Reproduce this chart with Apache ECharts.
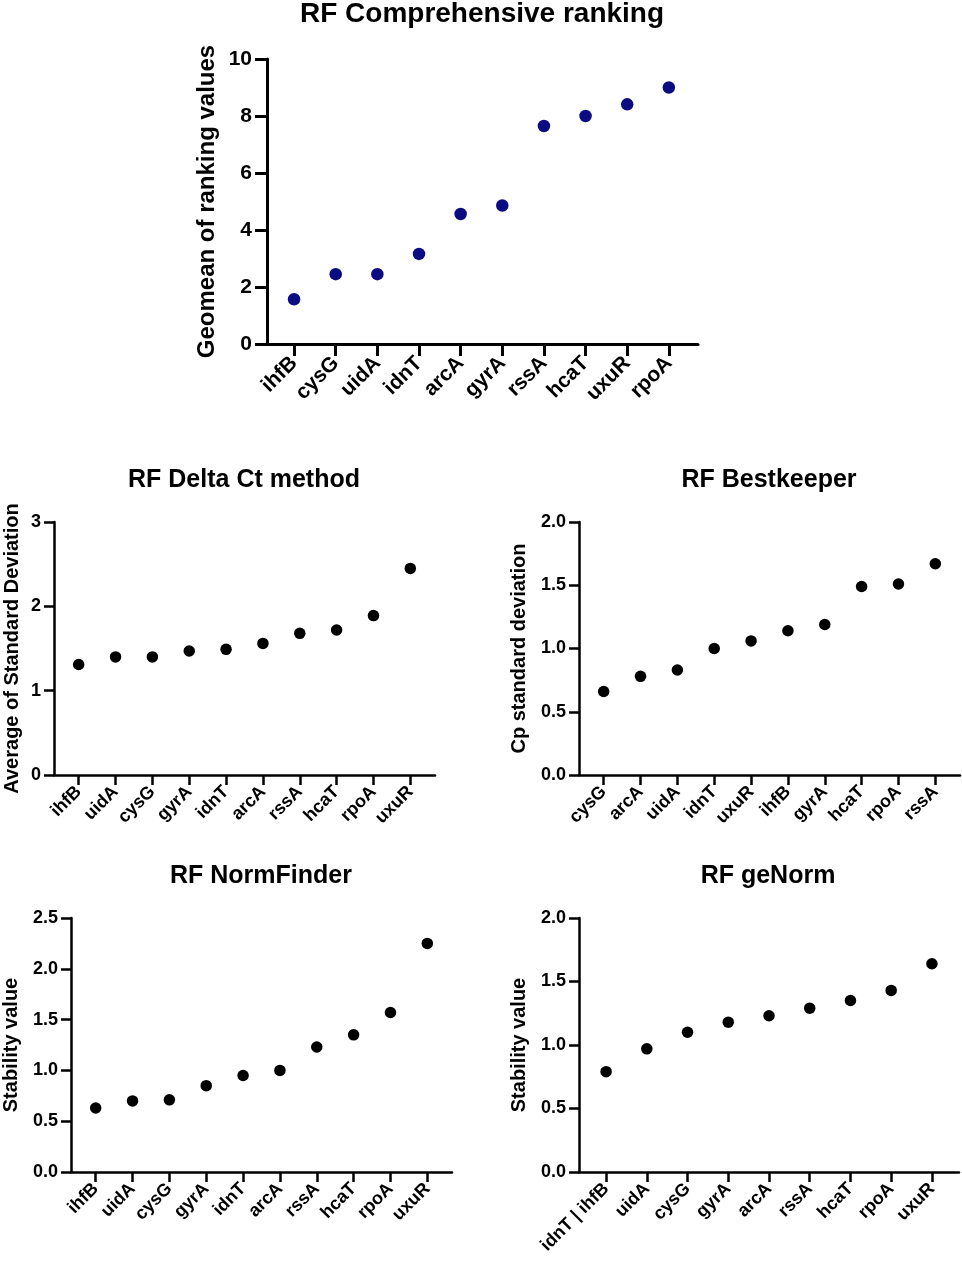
<!DOCTYPE html>
<html>
<head>
<meta charset="utf-8">
<script src="https://cdn.jsdelivr.net/npm/echarts@6/dist/echarts.min.js"></script>
<style>
html,body{margin:0;padding:0;background:#fff;}
#chart{width:962px;height:1266px;}
</style>
</head>
<body>
<div id="chart"></div>
<script>
// ---- Data ----
var compCats = ['ihfB','cysG','uidA','idnT','arcA','gyrA','rssA','hcaT','uxuR','rpoA'];
var compVals = [1.57, 2.45, 2.45, 3.16, 4.56, 4.86, 7.65, 8.00, 8.41, 9.00];

var deltaCats = ['ihfB','uidA','cysG','gyrA','idnT','arcA','rssA','hcaT','rpoA','uxuR'];
var deltaVals = [1.31, 1.40, 1.40, 1.47, 1.49, 1.56, 1.68, 1.72, 1.89, 2.45];

var bestCats = ['cysG','arcA','uidA','idnT','uxuR','ihfB','gyrA','hcaT','rpoA','rssA'];
var bestVals = [0.66, 0.78, 0.83, 1.00, 1.06, 1.14, 1.19, 1.49, 1.51, 1.67];

var normCats = ['ihfB','uidA','cysG','gyrA','idnT','arcA','rssA','hcaT','rpoA','uxuR'];
var normVals = [0.63, 0.70, 0.71, 0.85, 0.95, 1.00, 1.23, 1.35, 1.57, 2.25];

var geCats = ['idnT | ihfB','uidA','cysG','gyrA','arcA','rssA','hcaT','rpoA','uxuR'];
var geVals = [0.79, 0.97, 1.10, 1.18, 1.23, 1.29, 1.35, 1.43, 1.64];

var FONT = '"Liberation Sans", Arial, Helvetica, sans-serif';

var panels = [
  {title:'RF Comprehensive ranking', cats:compCats, vals:compVals, yName:'Geomean of ranking values',
   left:267, top:59, width:431, height:285, yMax:10, yInt:2, dec:0, color:'#0b0b82',
   titleX:482, titleTop:0, titleSize:28, tickSize:21, nameSize:24, nameGap:48,
   lw:3, tickLen:12, sym:12.5, padL:0.65, padR:0.7},
  {title:'RF Delta Ct method', cats:deltaCats, vals:deltaVals, yName:'Average of Standard Deviation',
   left:54, top:522, width:381, height:253, yMax:3, yInt:1, dec:0, color:'#000',
   titleX:244, titleTop:468, titleSize:25, tickSize:18, nameSize:20, nameGap:32,
   lw:2.5, tickLen:10, sym:11.5, padL:0.67, padR:0.67},
  {title:'RF Bestkeeper', cats:bestCats, vals:bestVals, yName:'Cp standard deviation',
   left:579, top:522, width:381, height:253, yMax:2, yInt:0.5, dec:1, color:'#000',
   titleX:769, titleTop:468, titleSize:25, tickSize:18, nameSize:20, nameGap:50,
   lw:2.5, tickLen:10, sym:11.5, padL:0.67, padR:0.67},
  {title:'RF NormFinder', cats:normCats, vals:normVals, yName:'Stability value',
   left:71, top:918, width:381, height:254, yMax:2.5, yInt:0.5, dec:1, color:'#000',
   titleX:261, titleTop:864, titleSize:25, tickSize:18, nameSize:20, nameGap:50,
   lw:2.5, tickLen:10, sym:11.5, padL:0.67, padR:0.67},
  {title:'RF geNorm', cats:geCats, vals:geVals, yName:'Stability value',
   left:579, top:918, width:380, height:254, yMax:2, yInt:0.5, dec:1, color:'#000',
   titleX:768, titleTop:864, titleSize:25, tickSize:18, nameSize:20, nameGap:50,
   lw:2.5, tickLen:10, sym:11.5, padL:0.665, padR:0.665}
];

var option = {backgroundColor:'#fff', animation:false, title:[], grid:[], xAxis:[], yAxis:[], series:[]};

panels.forEach(function(p, i){
  var idxs = p.cats.map(function(_, k){ return k; });
  option.title.push({
    text:p.title, left:p.titleX, top:p.titleTop, textAlign:'center', padding:0,
    textStyle:{fontFamily:FONT, fontSize:p.titleSize, fontWeight:'bold', color:'#000'}
  });
  option.grid.push({left:p.left, top:p.top, width:p.width, height:p.height, containLabel:false, outerBoundsMode:'none'});
  option.xAxis.push({
    gridIndex:i, type:'value', min:-p.padL, max:p.cats.length-1+p.padR,
    axisLine:{show:true, onZero:false, lineStyle:{color:'#000', width:p.lw}},
    axisTick:{show:true, length:p.tickLen, customValues:idxs, lineStyle:{color:'#000', width:p.lw}},
    axisLabel:{show:true, customValues:idxs, rotate:45, margin:p.tickLen+4,
      formatter:function(v){ return p.cats[Math.round(v)]; },
      fontFamily:FONT, fontSize:p.tickSize, fontWeight:'bold', color:'#000'},
    splitLine:{show:false}
  });
  option.yAxis.push({
    gridIndex:i, type:'value', min:0, max:p.yMax, interval:p.yInt,
    name:p.yName, nameLocation:'middle', nameGap:p.nameGap, nameMoveOverlap:false,
    nameTextStyle:{fontFamily:FONT, fontSize:p.nameSize, fontWeight:'bold', color:'#000'},
    axisLine:{show:true, onZero:false, lineStyle:{color:'#000', width:p.lw}},
    axisTick:{show:true, length:p.tickLen, lineStyle:{color:'#000', width:p.lw}},
    axisLabel:{show:true, margin:p.tickLen+3,
      formatter:function(v){ return v.toFixed(p.dec); },
      fontFamily:FONT, fontSize:p.tickSize, fontWeight:'bold', color:'#000'},
    splitLine:{show:false}
  });
  option.series.push({
    type:'scatter', xAxisIndex:i, yAxisIndex:i, symbol:'circle', symbolSize:p.sym,
    itemStyle:{color:p.color, opacity:1},
    data:p.vals.map(function(v, k){ return [k, v]; })
  });
});

var chart = echarts.init(document.getElementById('chart'), null, {renderer:'canvas'});
chart.setOption(option);
</script>
</body>
</html>
